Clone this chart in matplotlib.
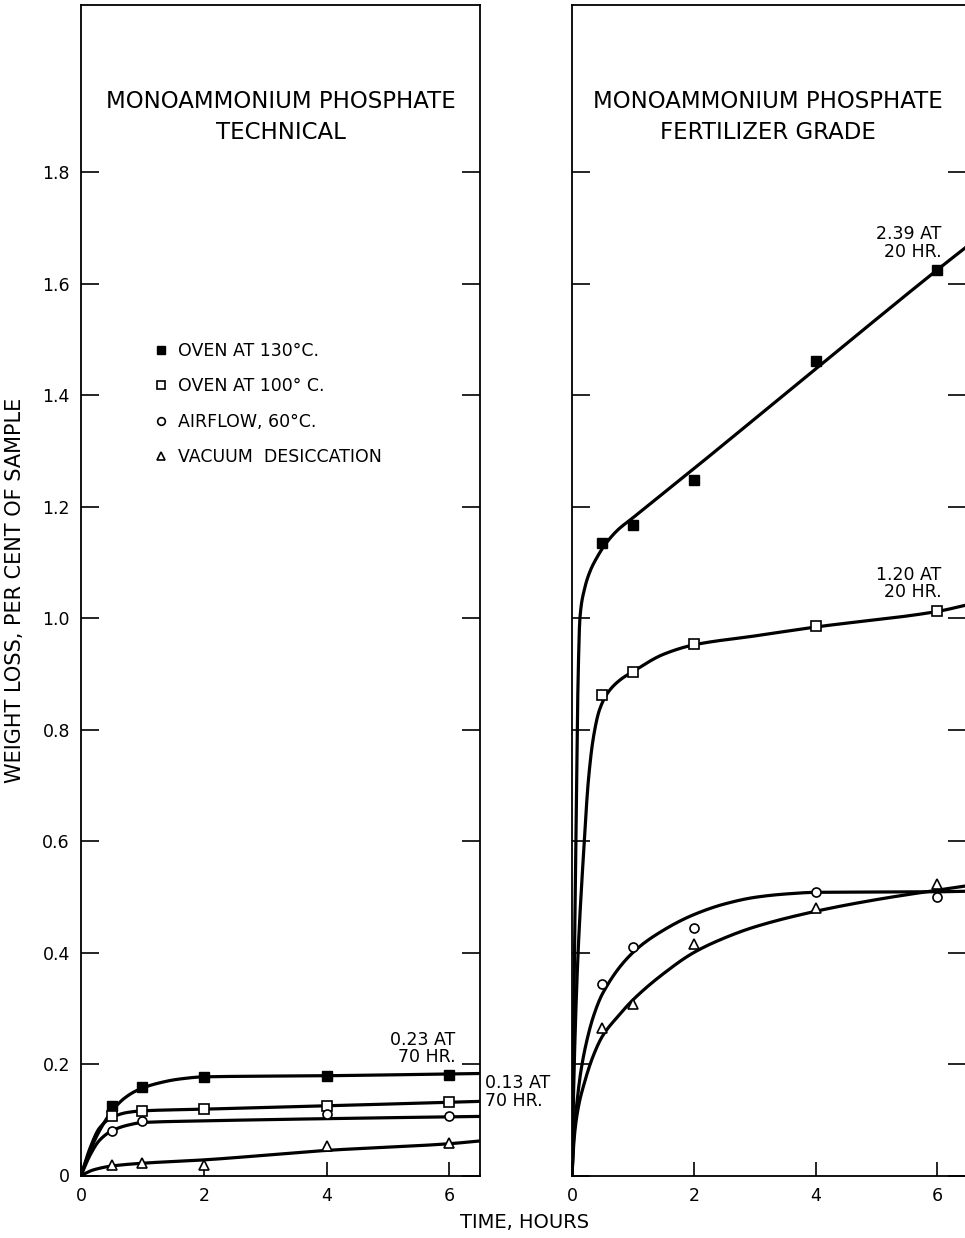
import numpy as np
import matplotlib
matplotlib.use("Agg")
import matplotlib.pyplot as plt

plt.rcParams['font.family'] = ['DejaVu Sans']

# measured points (hours, weight loss %)
times = [0.5, 1, 2, 4, 6]
nan = np.nan

tech_oven130 = [0.124, 0.158, 0.176, 0.178, 0.181]
tech_oven100 = [0.106, 0.116, 0.119, 0.125, 0.132]
tech_airflow = [0.080, 0.098, nan, 0.110, 0.106]
tech_vacuum = [0.018, 0.022, 0.018, 0.053, 0.059]

fert_oven130 = [1.135, 1.167, 1.247, 1.462, 1.624]
fert_oven100 = [0.862, 0.904, 0.954, 0.986, 1.012]
fert_airflow = [0.344, 0.410, 0.444, 0.508, 0.500]
fert_vacuum = [0.265, 0.308, 0.416, 0.480, 0.523]

# hand-drawn fitted curves
tech_curves = {
    'oven130': ([0, 0.15, 0.3, 0.5, 0.7, 0.9, 1.2, 1.6, 2, 4, 6.5],
                [0, 0.045, 0.080, 0.115, 0.138, 0.152, 0.164, 0.173, 0.177, 0.179, 0.183]),
    'oven100': ([0, 0.15, 0.3, 0.5, 0.75, 1, 2, 4, 6.5],
                [0, 0.050, 0.085, 0.104, 0.113, 0.116, 0.119, 0.125, 0.133]),
    'airflow': ([0, 0.15, 0.3, 0.5, 0.75, 1, 2, 4, 6.5],
                [0, 0.037, 0.063, 0.080, 0.090, 0.095, 0.098, 0.102, 0.106]),
    'vacuum': ([0, 0.2, 0.5, 1, 2, 4, 6, 6.5],
               [0, 0.010, 0.017, 0.022, 0.028, 0.045, 0.057, 0.062]),
}
fert_curves = {
    'oven130': ([0, 0.015, 0.035, 0.065, 0.1, 0.13, 0.2, 0.3, 0.4, 0.55, 0.75, 1.0, 2, 4, 6, 6.5],
                [0, 0.15, 0.35, 0.60, 0.89, 1.0, 1.05, 1.085, 1.107, 1.133, 1.158, 1.18,
                 1.268, 1.447, 1.625, 1.668]),
    'oven100': ([0, 0.02, 0.05, 0.1, 0.185, 0.27, 0.35, 0.45, 0.6, 0.8, 1, 1.5, 2, 3, 4, 6, 6.5],
                [0, 0.12, 0.25, 0.40, 0.57, 0.71, 0.785, 0.835, 0.868, 0.89, 0.904, 0.935,
                 0.952, 0.968, 0.984, 1.012, 1.024]),
    'airflow': ([0, 0.03, 0.08, 0.15, 0.25, 0.35, 0.5, 1, 1.5, 2, 2.5, 3, 3.5, 4, 6, 6.5],
                [0, 0.07, 0.13, 0.19, 0.245, 0.285, 0.326, 0.40, 0.44, 0.468, 0.487, 0.499,
                 0.505, 0.508, 0.509, 0.51]),
    'vacuum': ([0, 0.03, 0.1, 0.2, 0.35, 0.5, 0.75, 1, 1.5, 2, 2.5, 3, 4, 5, 6, 6.5],
               [0, 0.06, 0.12, 0.165, 0.215, 0.25, 0.285, 0.315, 0.362, 0.40, 0.426, 0.446,
                0.474, 0.495, 0.512, 0.52]),
}

labels = {
    'oven130': 'OVEN AT 130°C.',
    'oven100': 'OVEN AT 100° C.',
    'airflow': 'AIRFLOW, 60°C.',
    'vacuum': 'VACUUM  DESICCATION',
}
markers = {
    'oven130': dict(marker='s', mfc='black', mec='black', ms=6.5),
    'oven100': dict(marker='s', mfc='white', mec='black', ms=6.5, mew=1.2),
    'airflow': dict(marker='o', mfc='white', mec='black', ms=6.5, mew=1.2),
    'vacuum': dict(marker='^', mfc='white', mec='black', ms=7.5, mew=1.2),
}

y_ticks = [0, 0.2, 0.4, 0.6, 0.8, 1.0, 1.2, 1.4, 1.6, 1.8]
y_ticklabels = ['0', '0.2', '0.4', '0.6', '0.8', '1.0', '1.2', '1.4', '1.6', '1.8']
x_ticks = [0, 2, 4, 6]


def pchip(xk, yk, xs):
    # monotone cubic interpolation so the curves look hand drawn
    xk = np.asarray(xk, float)
    yk = np.asarray(yk, float)
    h = np.diff(xk)
    d = np.diff(yk) / h
    m = np.zeros_like(yk)
    m[0] = d[0]
    m[-1] = d[-1]
    for k in range(1, len(xk) - 1):
        if d[k - 1] * d[k] > 0:
            w1 = 2 * h[k] + h[k - 1]
            w2 = h[k] + 2 * h[k - 1]
            m[k] = (w1 + w2) / (w1 / d[k - 1] + w2 / d[k])
    idx = np.clip(np.searchsorted(xk, xs) - 1, 0, len(h) - 1)
    t = (xs - xk[idx]) / h[idx]
    h00 = 2 * t**3 - 3 * t**2 + 1
    h10 = t**3 - 2 * t**2 + t
    h01 = -2 * t**3 + 3 * t**2
    h11 = t**3 - t**2
    return h00 * yk[idx] + h10 * h[idx] * m[idx] + h01 * yk[idx + 1] + h11 * h[idx] * m[idx + 1]


fig = plt.figure(figsize=(9.65, 12.38), dpi=100)
W, H = 965, 1238
bot = (H - 1175.5) / H
hgt = (1175.5 - 5) / H
ax1 = fig.add_axes([81 / W, bot, (480 - 81) / W, hgt])
ax2 = fig.add_axes([572 / W, bot, (966 - 572) / W, hgt])


def draw(ax, curves, pts, xmax):
    for key, (cx, cy) in curves.items():
        xs = np.linspace(cx[0], cx[-1], 1500)
        ax.plot(xs, pchip(cx, cy, xs), color='black', lw=2.3, zorder=2,
                solid_capstyle='round')
    for key, vals in pts.items():
        ax.plot(times, vals, ls='none', zorder=3, label=labels[key], **markers[key])
    ax.set_xlim(0, xmax)
    ax.set_ylim(0, 2.1)
    ax.set_yticks(y_ticks)
    ax.set_xticks(x_ticks)
    ax.tick_params(axis='y', which='both', direction='in', length=13, width=1.2,
                   left=True, right=True, labelsize=12.5, pad=8)
    ax.tick_params(axis='x', direction='in', length=10, width=1.2, labelsize=12.5, pad=8)
    for s in ax.spines.values():
        s.set_linewidth(1.3)


draw(ax1, tech_curves, {'oven130': tech_oven130, 'oven100': tech_oven100,
                        'airflow': tech_airflow, 'vacuum': tech_vacuum}, 6.5)
draw(ax2, fert_curves, {'oven130': fert_oven130, 'oven100': fert_oven100,
                        'airflow': fert_airflow, 'vacuum': fert_vacuum}, 6.47)

ax1.set_yticklabels(y_ticklabels)
ax2.set_yticklabels([])

ax1.text(0.5, 0.904, 'MONOAMMONIUM PHOSPHATE\nTECHNICAL', transform=ax1.transAxes,
         ha='center', va='center', fontsize=16.5, linespacing=1.45)
ax2.text(0.497, 0.904, 'MONOAMMONIUM PHOSPHATE\nFERTILIZER GRADE', transform=ax2.transAxes,
         ha='center', va='center', fontsize=16.5, linespacing=1.45)

leg = ax1.legend(loc='upper left', bbox_to_anchor=(0.17, 0.718), frameon=False,
                 fontsize=12.5, handlelength=0.6, handletextpad=0.7, labelspacing=1.0,
                 borderaxespad=0, markerscale=0.85)

ax1.text(6.1, 0.228, '0.23 AT\n70 HR.', ha='right', va='center', fontsize=12.5,
         multialignment='right', linespacing=0.95)
ax1.text(6.58, 0.15, '0.13 AT\n70 HR.', ha='left', va='center', fontsize=12.5,
         linespacing=0.95, clip_on=False)
ax2.text(6.07, 1.673, '2.39 AT\n20 HR.', ha='right', va='center', fontsize=12.5,
         multialignment='right', linespacing=0.95)
ax2.text(6.07, 1.062, '1.20 AT\n20 HR.', ha='right', va='center', fontsize=12.5,
         multialignment='right', linespacing=0.95)

fig.text(15 / W, 1 - 590 / H, 'WEIGHT LOSS, PER CENT OF SAMPLE', rotation=90,
         ha='center', va='center', fontsize=15)
fig.text(525 / W, 1 - 1222 / H, 'TIME, HOURS', ha='center', va='center', fontsize=14)

fig.savefig('out.png', dpi=100)
